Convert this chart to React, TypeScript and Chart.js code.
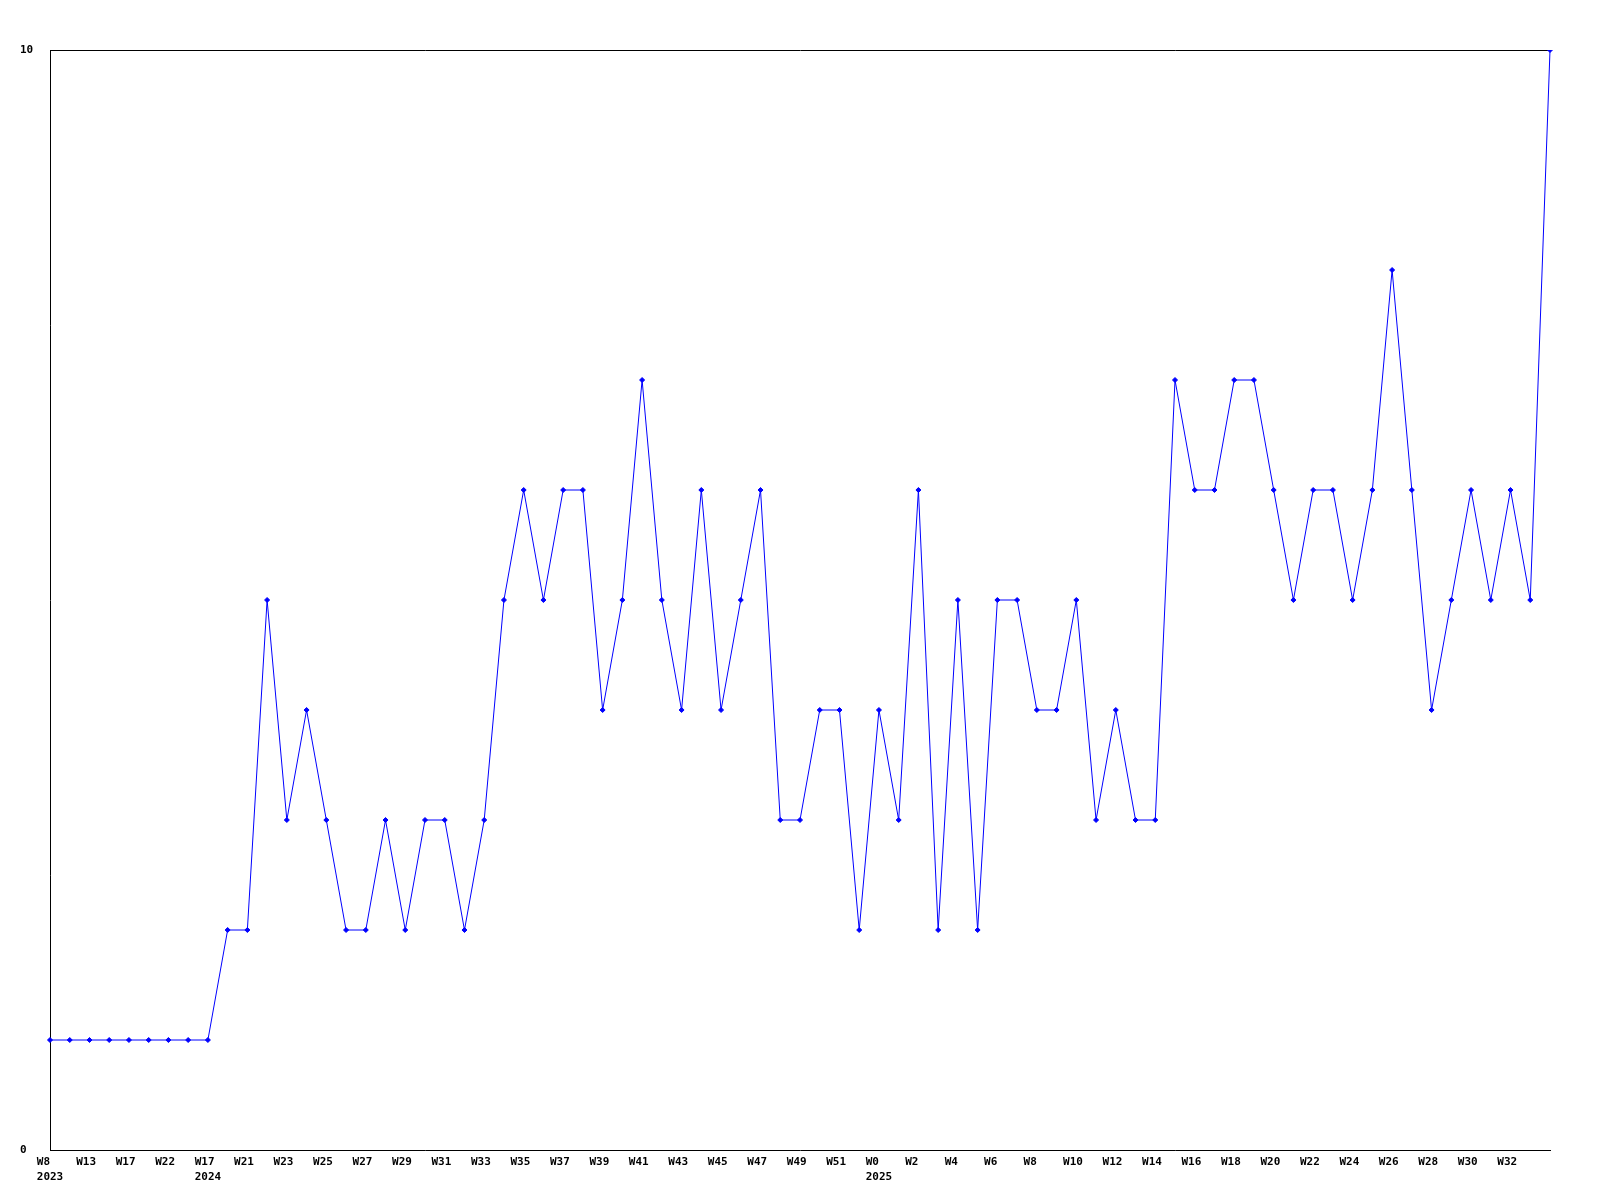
import { useEffect, useRef } from 'react';
import { Chart, registerables } from 'chart.js';

Chart.register(...registerables);

const weeks: string[] = [
  'W8', 'W10', 'W13', 'W15', 'W17', 'W20', 'W22', 'W24',
  'W17', 'W19', 'W21', 'W22', 'W23', 'W24', 'W25', 'W26', 'W27', 'W28', 'W29', 'W30',
  'W31', 'W32', 'W33', 'W34', 'W35', 'W36', 'W37', 'W38', 'W39', 'W40', 'W41', 'W42',
  'W43', 'W44', 'W45', 'W46', 'W47', 'W48', 'W49', 'W50', 'W51', 'W52',
  'W0', 'W1', 'W2', 'W3', 'W4', 'W5', 'W6', 'W7', 'W8', 'W9', 'W10', 'W11', 'W12', 'W13',
  'W14', 'W15', 'W16', 'W17', 'W18', 'W19', 'W20', 'W21', 'W22', 'W23', 'W24', 'W25',
  'W26', 'W27', 'W28', 'W29', 'W30', 'W31', 'W32', 'W33', 'W34',
];

const yearMarks: string[] = weeks.map(() => '');
yearMarks[0] = '2023';
yearMarks[8] = '2024';
yearMarks[42] = '2025';

const values: number[] = [
  1, 1, 1, 1, 1, 1, 1, 1, 1,
  2, 2, 5, 3, 4, 3, 2, 2, 3, 2, 3, 3, 2, 3, 5, 6, 5, 6, 6, 4, 5, 7, 5, 4, 6, 4, 5, 6,
  3, 3, 4, 4, 2, 4, 3, 6, 2, 5, 2, 5, 5, 4, 4, 5, 3, 4, 3, 3,
  7, 6, 6, 7, 7, 6, 5, 6, 6, 5, 6, 8, 6, 4, 5, 6, 5, 6, 5, 10,
];

const yTicks: number[] = [0, 10];

const FONT = { family: "'DejaVu Sans Mono', monospace", weight: 'bold' as const, size: 11, lineHeight: 15 / 11 };

export default function App() {
  const ref = useRef<HTMLCanvasElement>(null);

  useEffect(() => {
    if (!ref.current) return;
    const labels = weeks.map((w, i) => (yearMarks[i] ? [w, yearMarks[i]] : w));
    // labels in the reference are left-aligned a little before the point
    const pad = (s: string) => s.padEnd(4, ' ');
    const chart = new Chart(ref.current, {
      type: 'line',
      data: {
        labels,
        datasets: [
          {
            data: values,
            borderColor: '#0000ff',
            backgroundColor: '#0000ff',
            borderWidth: 1,
            pointStyle: 'rectRot',
            pointRadius: 2.5,
            pointBorderWidth: 1,
            tension: 0,
            fill: false,
          },
        ],
      },
      options: {
        animation: false,
        responsive: false,
        maintainAspectRatio: false,
        layout: { padding: { left: 20, top: 50, right: 50, bottom: 0 } },
        plugins: { legend: { display: false }, tooltip: { enabled: false } },
        scales: {
          x: {
            offset: false,
            grid: { display: false, drawTicks: false },
            border: { display: true, color: '#000', width: 1 },
            ticks: {
              autoSkip: false,
              maxRotation: 0,
              minRotation: 0,
              padding: 5,
              color: '#000',
              font: FONT,
              callback: (_v: any, i: number) => {
                if (!(i % 2 === 0 && i < weeks.length - 1)) return '';
                const l = labels[i];
                return Array.isArray(l) ? l.map(pad) : pad(l);
              },
            },
            afterFit: (s: any) => {
              s.height = 50;
            },
          },
          y: {
            min: yTicks[0],
            max: yTicks[yTicks.length - 1],
            afterBuildTicks: (s: any) => {
              s.ticks = yTicks.map((v) => ({ value: v }));
            },
            grid: {
              drawTicks: false,
              color: (ctx: any) => (ctx.tick && ctx.tick.value === 10 ? '#000' : 'rgba(0,0,0,0)'),
            },
            border: { display: true, color: '#000', width: 1 },
            ticks: {
              crossAlign: 'far',
              color: '#000',
              font: FONT,
              padding: 0,
            },
            afterFit: (s: any) => {
              s.width = 30;
            },
          },
        },
      },
    });
    return () => chart.destroy();
  }, []);

  return (
    <div style={{ position: 'absolute', left: 0, top: 0, width: 1600, height: 1200, background: '#fff' }}>
      <canvas ref={ref} width={1600} height={1200} style={{ width: 1600, height: 1200, display: 'block' }} />
    </div>
  );
}
